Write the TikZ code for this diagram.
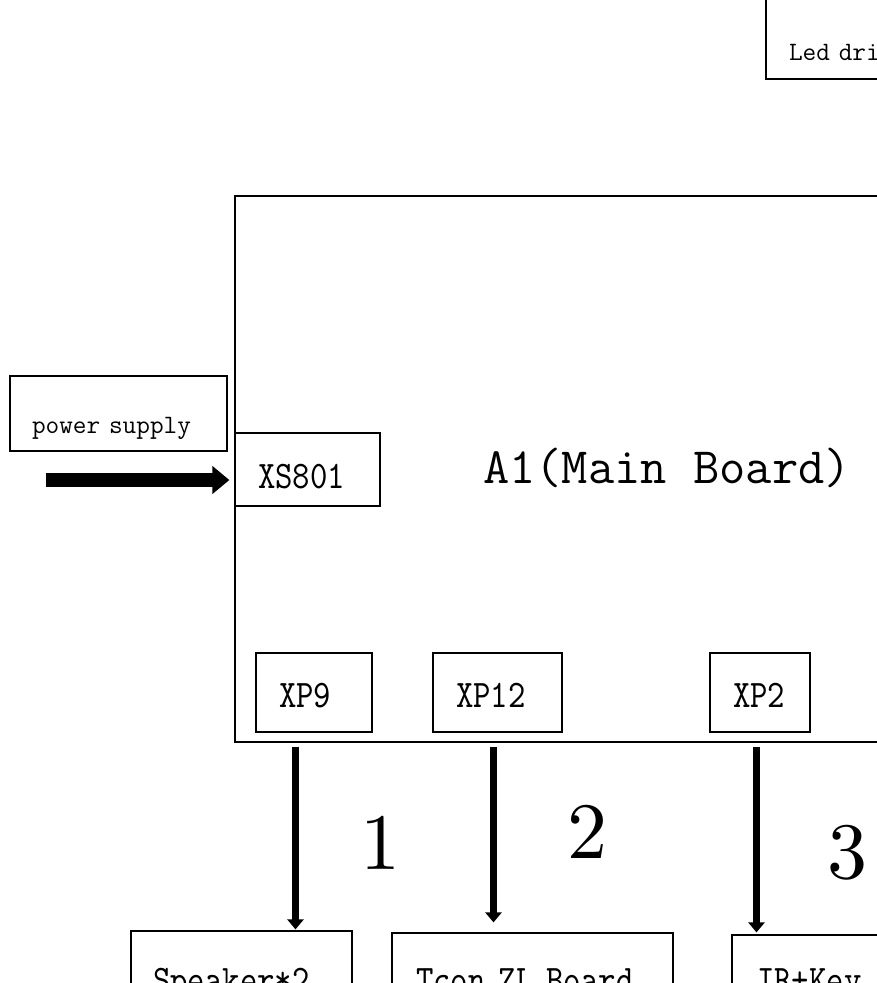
\documentclass[tikz,border=0pt]{standalone}
\usepackage{fontspec}
\usetikzlibrary{arrows.meta,positioning}

\newfontfamily\sunfont[FakeStretch=0.85]{lmmono10-regular.otf}
\newfontfamily\numfont{lmroman10-regular.otf}

\tikzset{
  board/.style={draw, line width=1.3pt, inner sep=0pt},
  portbox/.style={draw, line width=1.2pt, inner xsep=23pt, inner ysep=0pt, align=left, text depth=0pt, font={\sunfont\fontsize{39}{39}\selectfont}},
  notebox/.style={draw, line width=1.2pt, inner xsep=22pt, inner ysep=0pt, align=left, text depth=0pt, font={\ttfamily\fontsize{26.5}{26.5}\selectfont}},
  dnarrow/.style={line width=7pt, -{Triangle[width=16pt,length=10pt]}},
  pwrarrow/.style={line width=14pt, -{Triangle[width=27pt,length=17pt]}},
  numlabel/.style={inner sep=0pt, font={\numfont\fontsize{80}{80}\selectfont}}
}

\begin{document}
\begin{tikzpicture}[x=1pt, y=-1pt]

\useasboundingbox (0,0) rectangle (877,983);
\clip (0,0) rectangle (877,983);

% draw main board and its title
\node[board, minimum width=765pt, minimum height=546pt] (main) at (617.5,469) {};
\node[anchor=base west, inner sep=0pt, font={\ttfamily\fontsize{51}{51}\selectfont}] (title) at (483,483) {A1(Main Board)};

% draw led driver and power supply
\node[notebox, inner xsep=23pt, text width=204pt, minimum height=100pt, text height=62pt] (led) at (891,29) {Led driver};
\node[notebox, text width=173pt, minimum height=75pt, text height=39pt] (psu) at (118.5,413.5) {power supply};

% draw connectors of the main board
\node[portbox, text width=99pt, minimum height=73pt, text height=37pt] (xs801) at (307.5,469.5) {XS801};
\node[portbox, text width=70pt, minimum height=79pt, text height=29pt] (xp9) at (314,692.5) {XP9};
\node[portbox, text width=83pt, minimum height=79pt, text height=29pt] (xp12) at (497.5,692.5) {XP12};
\node[portbox, text width=54pt, minimum height=79pt, text height=29pt] (xp2) at (760,692.5) {XP2};

% draw boards below
\node[portbox, inner xsep=22pt, text width=177pt, minimum height=80pt, text height=42pt] (spk) at (241.5,971) {Speaker*2};
\node[portbox, inner xsep=24pt, text width=233pt, minimum height=80pt, text height=38pt] (tcon) at (532.5,973) {Tcon ZL Board};
\node[portbox, inner xsep=25pt, text width=120pt, minimum height=80pt, text height=34pt] (irkey) at (817,975) {IR+Key};

% draw power input
\coordinate (pin) at (46,480);
\draw[pwrarrow, shorten >=5pt] (pin) -- (pin -| xs801.west);

% draw cables
\coordinate (c1) at ([xshift=-18.5pt]xp9.south);
\coordinate (c2) at ([xshift=-4pt]xp12.south);
\coordinate (c3) at ([xshift=-3.5pt]xp2.south);
\draw[dnarrow, shorten <=4pt, shorten >=1pt] (c1 |- main.south) -- (c1 |- spk.north);
\draw[dnarrow, shorten <=4pt, shorten >=10pt] (c2 |- main.south) -- (c2 |- tcon.north);
\draw[dnarrow, shorten <=4pt, shorten >=2pt] (c3 |- main.south) -- (c3 |- irkey.north);

\node[numlabel] (n1) at (380.5,843) {1};
\node[numlabel] (n2) at (587.5,832) {2};
\node[numlabel] (n3) at (847.5,853) {3};

\end{tikzpicture}
\end{document}
